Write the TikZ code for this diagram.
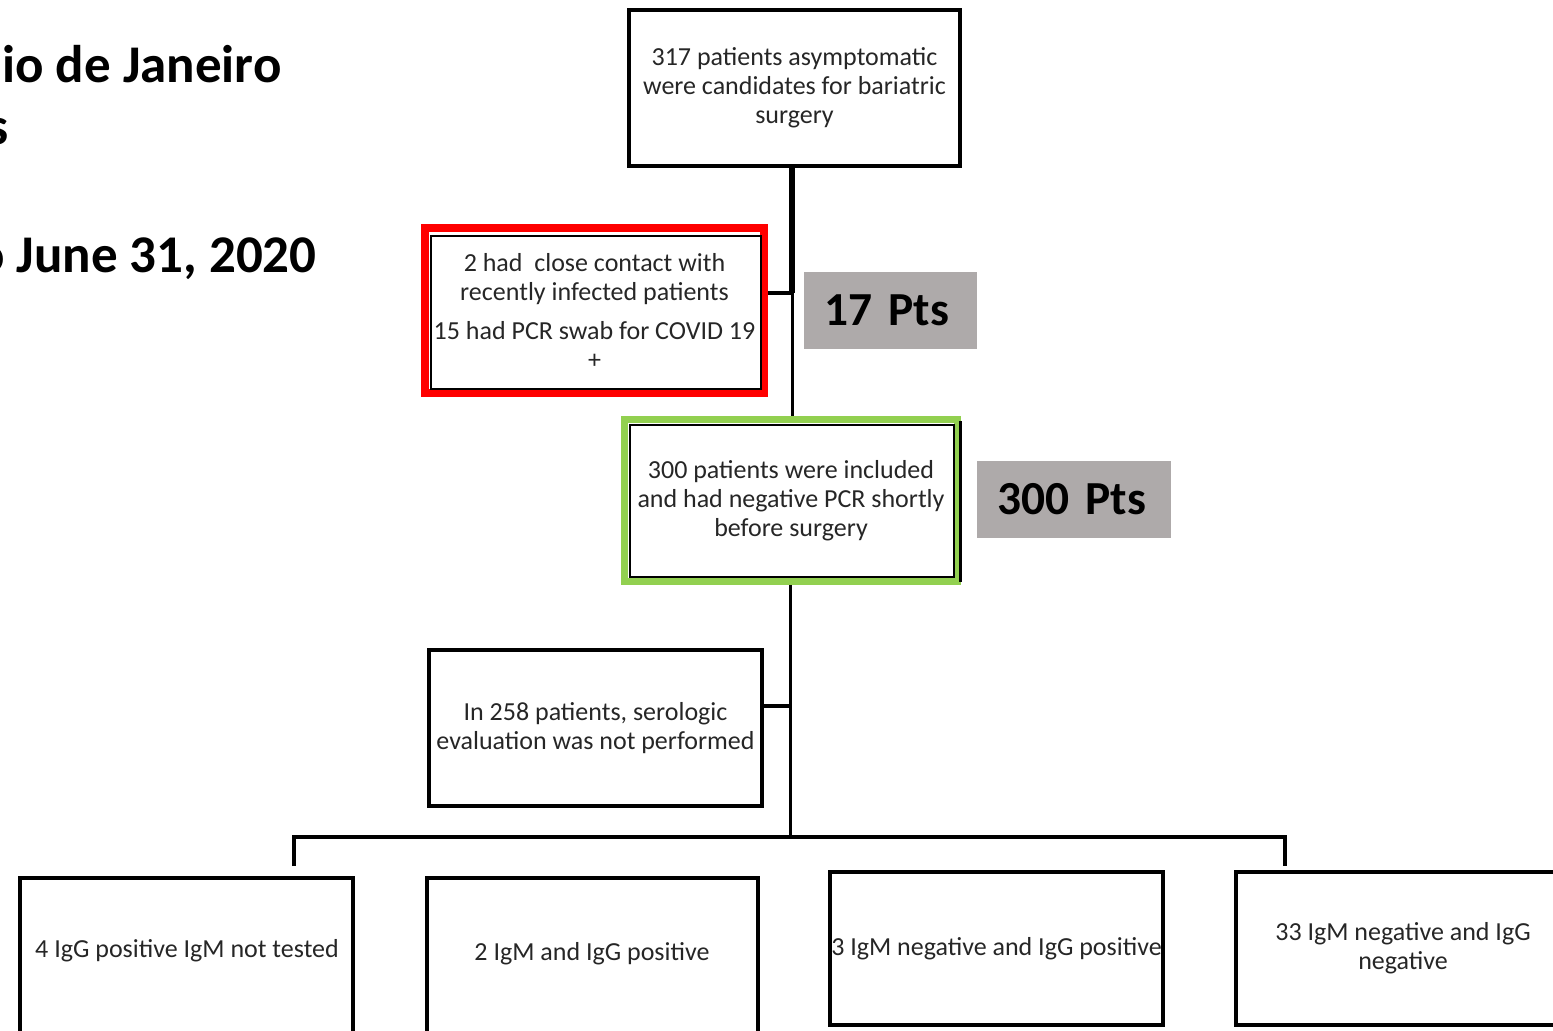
\documentclass[tikz,border=0pt]{standalone}
\usepackage{fontspec}
\setmainfont{Carlito}
\definecolor{redc}{HTML}{FF0000}
\definecolor{greenc}{HTML}{92D050}
\definecolor{grayc}{HTML}{AEAAAA}
\definecolor{txt}{HTML}{262626}
\newcommand\btext{\fontsize{13}{14.5}\selectfont\color{txt}}
\newcommand\ptsfont{\fontsize{23.7}{28}\selectfont\bfseries}
\newcommand\ttlfont{\fontsize{26.5}{32}\selectfont\bfseries}
\begin{document}
\begin{tikzpicture}[x=0.5pt,y=-0.5pt,
  box/.style={draw=black,line width=2pt,inner sep=0pt,align=center,font=\btext},
  boxtext/.style={inner sep=0pt,align=center,font=\btext},
  pts/.style={fill=grayc,anchor=west,minimum height=38.5pt,inner xsep=10pt,inner ysep=0pt,align=left,font=\ptsfont},
  ttl/.style={inner sep=0pt,font=\ttlfont},
  conn/.style={line width=2pt}]
\useasboundingbox (0,0) rectangle (1553,1031);
\clip (0,0) rectangle (1553,1031);
% title fragments
\node[ttl,anchor=base west] (t1) at (2,83) {io de Janeiro};
\node[ttl,anchor=base west] (t2) at (-13,145) {s};
\node[ttl,anchor=base east] (t3) at (317,273) {o June 31, 2020};
% top box
\node[box,minimum width=165.5pt,minimum height=78pt] (top) at (794.5,88)
  {317 patients asymptomatic\\were candidates for bariatric\\surgery};
% excluded (red)
\node[draw=redc,line width=4pt,inner sep=0pt,minimum width=169.5pt,minimum height=82.5pt,align=center,font=\btext] (excl) at (594.5,310.5)
  {2 had\ \ close contact with\\recently infected patients\\[5pt]15 had PCR swab for COVID 19\\+};
\draw[line width=1.2pt] (431,236) rectangle (761,389);
% included (green)
\node[draw=greenc,line width=3.5pt,inner sep=0pt,minimum width=166.5pt,minimum height=81pt,align=center,font=\btext] (incl) at (791,500.5)
  {300 patients were included\\and had negative PCR shortly\\before surgery};
\draw[line width=1.2pt] (630,425) rectangle (954,577);
\draw[line width=1.5pt] (960,421) -- (960,582);
% grey labels
\node[pts,text width=66.5pt] (p17) at (804,310.5) {17 Pts};
\node[pts,text width=77pt] (p300) at (977,499.5) {300 Pts};
% not performed
\node[box,minimum width=166.5pt,minimum height=78pt] (nope) at (595.5,728)
  {In 258 patients, serologic\\evaluation was not performed};
% bottom boxes
\node[draw=black,line width=2pt,inner sep=0pt,minimum width=166.5pt,minimum height=81pt] (b1) at (186.5,959) {};
\node[boxtext] (b1t) at (187,951) {4 IgG positive IgM not tested};
\node[draw=black,line width=2pt,inner sep=0pt,minimum width=165.5pt,minimum height=81pt] (b2) at (592.5,959) {};
\node[boxtext] (b2t) at (592,954) {2 IgM and IgG positive};
\node[box,minimum width=166.5pt,minimum height=76.5pt] (b3) at (996.5,948.5) {3 IgM negative and IgG positive};
\node[box,minimum width=167pt,minimum height=76.5pt] (b4) at (1403,948.5) {33 IgM negative and IgG\\negative};
% connectors
\coordinate (j1) at (792,293);
\coordinate (j2) at (790,706);
\coordinate (j3) at (790,837);
\coordinate (d1) at (294,866);
\coordinate (d4) at (1285,866);
\draw[line width=3pt] (top.south -| j1) -- (j1);
\draw[line width=1.5pt] (j1) -- (j1 |- incl.north);
\draw[conn] (excl.east |- j1) -- (j1);
\draw[line width=1.5pt] (incl.south -| j2) -- (j3);
\draw[conn] (nope.east |- j2) -- (j2);
\draw[conn] (d1) |- (j3) -| (d4);
\end{tikzpicture}
\end{document}
